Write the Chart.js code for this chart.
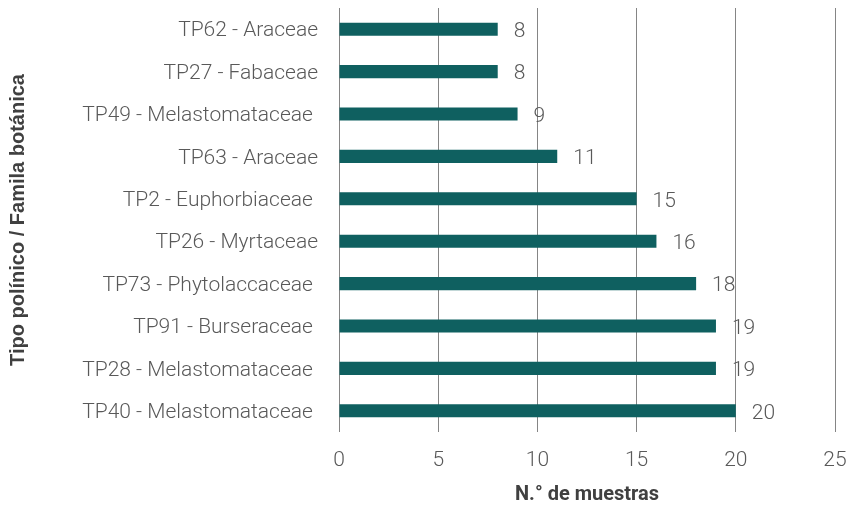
<!DOCTYPE html>
<html>
<head>
<meta charset="utf-8">
<script src="https://cdn.jsdelivr.net/npm/chart.js@4"></script>
<style>
  html, body { margin: 0; padding: 0; background: #ffffff; }
  #wrap { width: 849px; height: 508px; }
</style>
</head>
<body>
<div id="wrap"><canvas id="pollenChart" width="849" height="508"></canvas></div>
<script>
// some source labels carry a trailing space, which shifts them left a bit
const categories = [
  "TP62 - Araceae",
  "TP27 - Fabaceae",
  "TP49 - Melastomataceae ",
  "TP63 - Araceae",
  "TP2 - Euphorbiaceae ",
  "TP26 - Myrtaceae",
  "TP73 - Phytolaccaceae ",
  "TP91 - Burseraceae ",
  "TP28 - Melastomataceae ",
  "TP40 - Melastomataceae "
];
const samples = [8, 8, 9, 11, 15, 16, 18, 19, 19, 20];
const xTicks = [0, 5, 10, 15, 20, 25];

const valueLabels = {
  id: "valueLabels",
  afterDatasetsDraw(chart) {
    const ctx = chart.ctx;
    const meta = chart.getDatasetMeta(0);
    ctx.save();
    ctx.font = "300 21px Roboto";
    ctx.fillStyle = "#595959";
    ctx.textAlign = "left";
    ctx.textBaseline = "middle";
    meta.data.forEach((bar, i) => {
      ctx.fillText(String(samples[i]), bar.x + 16, bar.y + 2.5);
    });
    ctx.restore();
  }
};

const canvas = document.getElementById("pollenChart");
const chart = new Chart(canvas, {
  type: "bar",
  data: {
    labels: categories,
    datasets: [
      {
        data: samples,
        backgroundColor: "#0f6060",
        borderWidth: 0,
        categoryPercentage: 1,
        barPercentage: 0.31,
      },
    ],
  },
  options: {
    indexAxis: "y",
    responsive: false,
    animation: false,
    layout: { padding: { top: 8, right: 14, left: 0, bottom: 0 } },
    plugins: {
      legend: { display: false },
      tooltip: { enabled: false },
    },
    scales: {
      x: {
        min: 0,
        max: 25,
        afterBuildTicks: (scale) => {
          scale.ticks = xTicks.map((v) => ({ value: v }));
        },
        afterFit: (scale) => {
          scale.height = 76;
          scale.paddingLeft = 0;
          scale.paddingRight = 0;
        },
        grid: { color: "#858585", lineWidth: 1, drawTicks: false },
        border: { display: false },
        ticks: {
          padding: 16,
          color: "#595959",
          font: { family: "Roboto", size: 21, weight: 300 },
        },
        title: {
          display: true,
          text: "N.° de muestras",
          color: "#404040",
          font: { family: "Roboto", size: 20, weight: "bold" },
          padding: { top: 0, bottom: 1 },
        },
      },
      y: {
        afterFit: (scale) => {
          scale.width = 339;
          scale.paddingTop = 0;
          scale.paddingBottom = 0;
        },
        grid: { display: false, drawTicks: false },
        border: { display: false },
        ticks: {
          padding: 21,
          labelOffset: 2,
          color: "#595959",
          font: { family: "Roboto", size: 21, weight: 300 },
        },
        title: {
          display: true,
          text: "Tipo polínico / Famila botánica",
          color: "#404040",
          font: { family: "Liberation Sans", size: 20, weight: "bold" },
          padding: { top: 6, bottom: 0 },
        },
      },
    },
  },
  plugins: [valueLabels],
});
</script>
</body>
</html>
